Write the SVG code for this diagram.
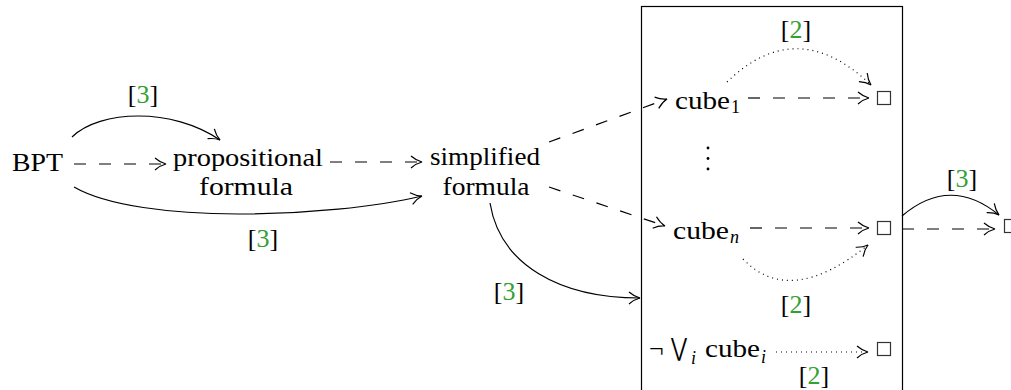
<svg xmlns="http://www.w3.org/2000/svg" width="1011" height="390" viewBox="0 0 1011 390">
<defs>
<style>
.t{font-family:"Liberation Serif","DejaVu Serif",serif;font-size:26px;fill:#000}
.s{font-size:18px}
.it{font-style:italic}
.g{fill:#33a033}
.ln{fill:none;stroke:#000;stroke-width:1.2}
.da{stroke-dasharray:12 13}
.do{stroke-dasharray:1 4}
.sq{fill:none;stroke:#333;stroke-width:1.2}
</style>
<marker id="ah" viewBox="-13 -8 15 16" refX="0" refY="0" markerWidth="15" markerHeight="16" markerUnits="userSpaceOnUse" orient="auto">
<path d="M-11,-6 C-7,-2.5 -2.5,-0.6 0,0 C-2.5,0.6 -7,2.5 -11,6" fill="none" stroke="#000" stroke-width="1.2" stroke-dasharray="none"/>
</marker>
</defs>
<rect width="1011" height="390" fill="#fff"/>

<g id="box"><rect x="641.5" y="6.5" width="261" height="400" fill="none" stroke="#000" stroke-width="1.2"/></g>

<g id="bpt"><text class="t" x="12" y="171" textLength="51" lengthAdjust="spacingAndGlyphs">BPT</text></g>
<g id="prop">
<text class="t" x="248" y="166" text-anchor="middle" textLength="150" lengthAdjust="spacingAndGlyphs">propositional</text>
<text class="t" x="246" y="195" text-anchor="middle" textLength="94" lengthAdjust="spacingAndGlyphs">formula</text>
</g>
<g id="simp">
<text class="t" x="485" y="165" text-anchor="middle" textLength="110" lengthAdjust="spacingAndGlyphs">simplified</text>
<text class="t" x="486" y="195" text-anchor="middle" textLength="87" lengthAdjust="spacingAndGlyphs">formula</text>
</g>
<g id="cube1"><text class="t" x="675" y="109" textLength="55" lengthAdjust="spacingAndGlyphs">cube</text><text class="t s" x="731" y="113">1</text></g>
<g id="dots"><circle cx="708" cy="148" r="1.4"/><circle cx="708" cy="158.5" r="1.4"/><circle cx="708" cy="169" r="1.4"/></g>
<g id="cuben"><text class="t" x="673" y="239" textLength="56" lengthAdjust="spacingAndGlyphs">cube</text><text class="t s it" x="730" y="243">n</text></g>
<g id="negor">
<text class="t" x="649" y="357">¬</text>
<text class="t" x="671" y="356" textLength="16" lengthAdjust="spacingAndGlyphs" style="font-family:'DejaVu Sans',sans-serif;font-size:25px">⋁</text>
<text class="t s it" x="691" y="364">i</text>
<text class="t" x="705" y="357" textLength="55" lengthAdjust="spacingAndGlyphs">cube</text>
<text class="t s it" x="761" y="363">i</text>
</g>
<g id="sq1"><rect class="sq" x="877.5" y="91.5" width="13" height="13"/></g>
<g id="sqn"><rect class="sq" x="877.5" y="221.5" width="13" height="13"/></g>
<g id="sq3"><rect class="sq" x="877.5" y="342.5" width="13" height="13"/></g>
<g id="sqf"><rect class="sq" x="1004.5" y="219.5" width="13" height="13"/></g>

<g id="connectors">
<path class="ln da" d="M74,164 L166,164" marker-end="url(#ah)"/>
<path class="ln da" d="M330,162 L422,162" marker-end="url(#ah)"/>
<path class="ln" d="M72,137 C100,110 172,107 220,140" marker-end="url(#ah)"/>
<path class="ln" d="M74,187 C140,225 330,218 422,196" marker-end="url(#ah)"/>
<path class="ln" d="M490,203 C500,265 560,298 640,298" marker-end="url(#ah)"/>
<path class="ln da" d="M549,142 L667,99" marker-end="url(#ah)"/>
<path class="ln da" d="M549,187 L665,226" marker-end="url(#ah)"/>
<path class="ln da" d="M748,98 L869,98" marker-end="url(#ah)"/>
<path class="ln da" d="M750,228 L869,228" marker-end="url(#ah)"/>
<path class="ln do" d="M727,82 Q797,14 871,85" marker-end="url(#ah)"/>
<path class="ln do" d="M743,259 Q790,308 868,245" marker-end="url(#ah)"/>
<path class="ln do" d="M776,352 L868,352" marker-end="url(#ah)"/>
<path class="ln da" d="M902,229 L995,229" marker-end="url(#ah)"/>
<path class="ln" d="M902,216 Q950,175 999,215" marker-end="url(#ah)"/>
</g>

<g id="labels">
<text class="t" x="143" y="103" text-anchor="middle">[<tspan class="g">3</tspan>]</text>
<text class="t" x="263" y="247" text-anchor="middle">[<tspan class="g">3</tspan>]</text>
<text class="t" x="509" y="300" text-anchor="middle">[<tspan class="g">3</tspan>]</text>
<text class="t" x="962" y="187" text-anchor="middle">[<tspan class="g">3</tspan>]</text>
<text class="t" x="796" y="38" text-anchor="middle">[<tspan class="g">2</tspan>]</text>
<text class="t" x="796" y="313" text-anchor="middle">[<tspan class="g">2</tspan>]</text>
<text class="t" x="814" y="384" text-anchor="middle">[<tspan class="g">2</tspan>]</text>
</g>
</svg>
